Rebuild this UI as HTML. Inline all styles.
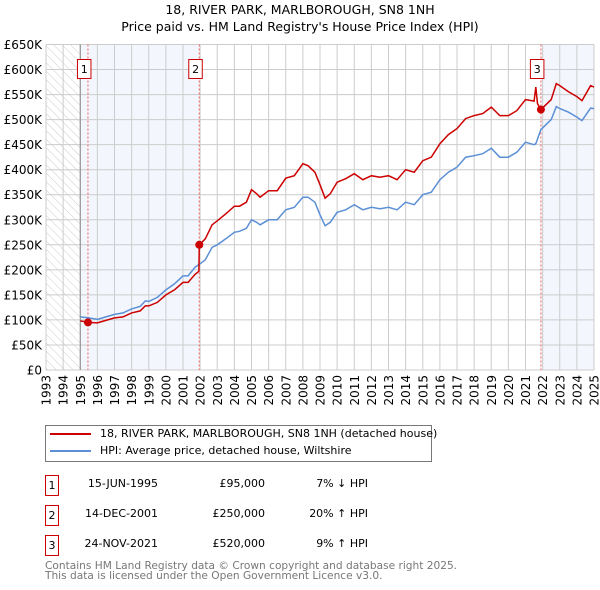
<!DOCTYPE html>
<html><head><meta charset="utf-8"><style>
body{margin:0;width:600px;height:590px;background:#fff;font-family:"DejaVu Sans","Liberation Sans",sans-serif;position:relative;overflow:hidden}
.t{position:absolute;white-space:nowrap;color:#000}
</style></head><body>
<svg id="chart" width="600" height="420" style="position:absolute;left:0;top:0" font-family="DejaVu Sans, Liberation Sans, sans-serif">
<defs><pattern id="hatch" width="6" height="6" patternUnits="userSpaceOnUse" patternTransform="rotate(-45)"><line x1="0" y1="0" x2="0" y2="6" stroke="#ccc" stroke-width="1"/></pattern></defs>
<text x="300" y="14" text-anchor="middle" font-size="12.5">18, RIVER PARK, MARLBOROUGH, SN8 1NH</text>
<text x="300" y="31" text-anchor="middle" font-size="12.5">Price paid vs. HM Land Registry's House Price Index (HPI)</text>
<g id="g"></g>
</svg>
<div class="t" style="left:45px;top:425px;width:385px;height:35px;border:1px solid #777"></div>
<div style="position:absolute;left:50px;top:433px;width:41px;height:2px;background:#cc0000"></div>
<div class="t" style="left:100px;top:427px;font-size:11px">18, RIVER PARK, MARLBOROUGH, SN8 1NH (detached house)</div>
<div style="position:absolute;left:50px;top:450px;width:41px;height:2px;background:#5b8fd6"></div>
<div class="t" style="left:100px;top:444px;font-size:11px">HPI: Average price, detached house, Wiltshire</div>
<div id="tbl"></div>
<div class="t" style="left:45px;top:561px;font-size:10.6px;color:#777;line-height:10px">Contains HM Land Registry data © Crown copyright and database right 2025.<br>This data is licensed under the Open Government Licence v3.0.</div>
<script>
const hpiDates=[1995.0,1995.5,1996,1996.5,1997,1997.5,1998,1998.5,1998.8,1999,1999.5,2000,2000.5,2001,2001.3,2001.7,2002,2002.3,2002.7,2003,2003.5,2004,2004.3,2004.7,2005,2005.3,2005.5,2006,2006.5,2007,2007.5,2008,2008.3,2008.7,2009,2009.3,2009.6,2010,2010.5,2011,2011.5,2012,2012.5,2013,2013.5,2014,2014.5,2015,2015.5,2016,2016.5,2017,2017.5,2018,2018.5,2019,2019.5,2020,2020.5,2021,2021.5,2021.6,2021.9,2022.5,2022.8,2023,2023.5,2024,2024.3,2024.8,2025];
const hpiValues=[106,104,101,106,111,114,122,127,138,137,145,160,172,188,188,205,212,220,245,250,262,275,277,283,300,295,290,300,300,320,325,345,345,335,310,288,295,315,320,330,320,325,322,325,320,335,330,350,355,380,395,405,425,428,432,443,425,425,435,455,450,452,480,500,526,522,515,505,498,523,522];
const priceDates=[1995.0,1995.45,1996,1996.5,1997,1997.5,1998,1998.5,1998.8,1999,1999.5,2000,2000.5,2001,2001.3,2001.7,2001.93,2001.95,2002.3,2002.7,2003,2003.5,2004,2004.3,2004.7,2005,2005.3,2005.5,2006,2006.5,2007,2007.5,2008,2008.3,2008.7,2009,2009.3,2009.6,2010,2010.5,2011,2011.5,2012,2012.5,2013,2013.5,2014,2014.5,2015,2015.5,2016,2016.5,2017,2017.5,2018,2018.5,2019,2019.5,2020,2020.5,2021,2021.5,2021.6,2021.7,2021.9,2022.5,2022.8,2023,2023.5,2024,2024.3,2024.8,2025];
const priceValues=[98,95,94,99,104,106,114,118,128,128,135,150,160,175,175,191,197,250,262,290,298,312,327,327,335,360,352,345,358,358,383,388,412,408,395,370,343,352,375,382,392,380,388,385,388,380,400,395,418,425,452,470,482,502,508,512,525,508,508,518,540,537,565,532,520,540,572,568,556,546,538,568,565];
const saleDates=[1995.45,2001.95,2021.9];
const salePrices=[95,250,520];
const saleLabels=['1','2','3'];
const saleDateText=['15-JUN-1995','14-DEC-2001','24-NOV-2021'];
const salePriceText=['£95,000','£250,000','£520,000'];
const saleHpiText=['7% ↓ HPI','20% ↑ HPI','9% ↑ HPI'];
const yTicks=[0,50,100,150,200,250,300,350,400,450,500,550,600,650];
const yTickLabels=['£0','£50K','£100K','£150K','£200K','£250K','£300K','£350K','£400K','£450K','£500K','£550K','£600K','£650K'];
const xTicks=[1993,1994,1995,1996,1997,1998,1999,2000,2001,2002,2003,2004,2005,2006,2007,2008,2009,2010,2011,2012,2013,2014,2015,2016,2017,2018,2019,2020,2021,2022,2023,2024,2025];

const X0=46,X1=594,Y0=370,Y1=44.5;
const sx=v=>X0+(v-1993)/(2025-1993)*(X1-X0);
const sy=v=>Y0-v/650*(Y0-Y1);
const NS='http://www.w3.org/2000/svg';
const g=document.getElementById('g');
function mk(tag,attrs,parent){const e=document.createElementNS(NS,tag);for(const k in attrs)e.setAttribute(k,attrs[k]);(parent||g).appendChild(e);return e;}

let r=mk('rect',{x:sx(1993),y:Y1,width:sx(1995)-sx(1993),height:Y0-Y1,fill:'url(#hatch)'});


r=mk('rect',{x:sx(1995),y:Y1,width:sx(saleDates[1])-sx(1995),height:Y0-Y1,fill:'#f3f6fd'});


r=mk('rect',{x:sx(saleDates[2]),y:Y1,width:X1-sx(saleDates[2]),height:Y0-Y1,fill:'#f3f6fd'});



yTicks.forEach((v,i)=>{
 const l=mk('line',{x1:X0,x2:X1,y1:sy(v),y2:sy(v),stroke:'#ccc','stroke-width':1});
 
 
 const t=mk('text',{x:X0-4,y:sy(v)+4.5,'text-anchor':'end','font-size':12});
 t.textContent=yTickLabels[i];
 
 
});
xTicks.forEach(v=>{
 const l=mk('line',{x1:sx(v),x2:sx(v),y1:Y1,y2:Y0,stroke:'#ccc','stroke-width':1});
 
 
 const t=mk('text',{x:0,y:0,'text-anchor':'end','font-size':12,transform:`translate(${sx(v)+4.5},${Y0+5}) rotate(-90)`});
 t.textContent=v;
 
 
});
let ax=mk('line',{x1:sx(1995),x2:sx(1995),y1:Y1,y2:Y0,stroke:'#888','stroke-width':1});



saleDates.forEach((d,i)=>{
 const l=mk('line',{x1:sx(d),x2:sx(d),y1:Y1,y2:Y0,stroke:'#f06060','stroke-width':1,'stroke-dasharray':'2,2'});
 
 
});

let p=mk('path',{d:hpiDates.map((d,i)=>(i?'L':'M')+sx(d).toFixed(1)+','+sy(hpiValues[i]).toFixed(1)).join(''),fill:'none',stroke:'#5b8fd6','stroke-width':1.5});


p=mk('path',{d:priceDates.map((d,i)=>(i?'L':'M')+sx(d).toFixed(1)+','+sy(priceValues[i]).toFixed(1)).join(''),fill:'none',stroke:'#cc0000','stroke-width':1.5});



saleDates.forEach((d,i)=>{
 const c=mk('circle',{cx:sx(d),cy:sy(salePrices[i]),r:4,fill:'#cc0000'});
 
 
 const b=mk('rect',{x:sx(d)-10.5,y:59.5,width:13.5,height:19,fill:'#fff',stroke:'#cc0000','stroke-width':1});
 
 
 const t=mk('text',{x:sx(d)-3.7,y:73,'text-anchor':'middle','font-size':11});
 t.textContent=saleLabels[i];
 
 
});

const tbl=document.getElementById('tbl');
saleDates.forEach((d,i)=>{
 const top=475+i*30;
 const row=document.createElement('div');
 
 
 row.innerHTML=`<div class="t" style="left:45px;top:${top}px;width:12px;height:19px;border:1px solid #cc0000;font-size:11px;text-align:center;line-height:19px">${saleLabels[i]}</div>
<div class="t" style="left:60px;width:98px;text-align:right;top:${top+2}px;font-size:11px">${saleDateText[i]}</div>
<div class="t" style="left:170px;width:95px;text-align:right;top:${top+2}px;font-size:11px">${salePriceText[i]}</div>
<div class="t" style="left:270px;width:98px;text-align:right;top:${top+2}px;font-size:11px">${saleHpiText[i]}</div>`;
 tbl.appendChild(row);
});
</script>
</body></html>
